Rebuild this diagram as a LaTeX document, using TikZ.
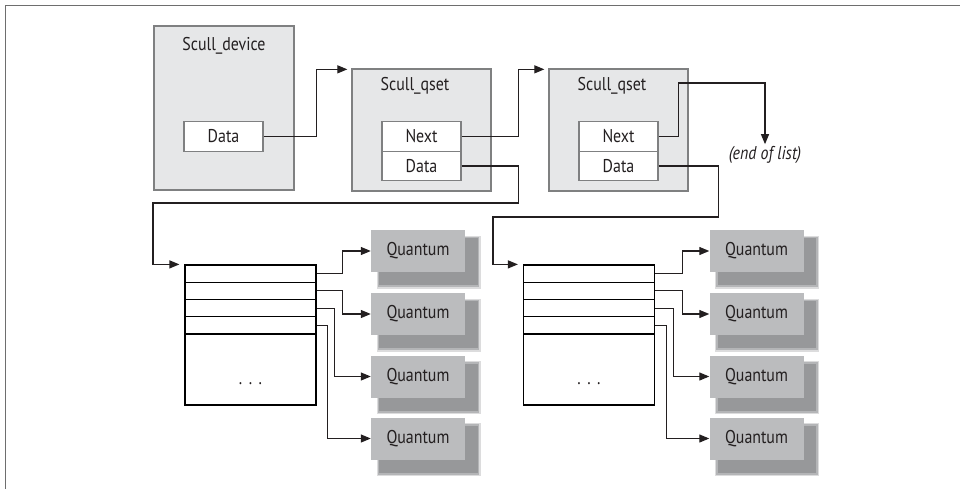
\documentclass[tikz,border=0pt]{standalone}
\usepackage{fontspec}
\setmainfont{PT Sans}[FakeStretch=0.86]
\usetikzlibrary{arrows.meta,backgrounds}
\definecolor{boxfill}{HTML}{E6E7E8}
\definecolor{boxline}{HTML}{7F8081}
\definecolor{qfill}{HTML}{BBBCBE}
\definecolor{shcore}{HTML}{97989A}
\definecolor{shmid}{HTML}{B4B5B7}
\definecolor{shout}{HTML}{DCDCDD}
\definecolor{ink}{HTML}{231F20}
\definecolor{framecol}{HTML}{6E6E6E}
\begin{document}
\begin{tikzpicture}[x=1pt,y=-1pt,
  font=\fontsize{18.5}{21}\selectfont, text=ink,
  graybox/.style={draw=boxline, fill=boxfill, line width=1.3pt, inner sep=0pt},
  field/.style={draw=boxline, fill=white, line width=1.3pt, inner sep=0pt, minimum width=79, minimum height=29.5},
  lbl/.style={inner sep=0pt},
  row/.style={draw=black, line width=1.2pt, fill=white, inner sep=0pt, minimum height=17.25},
  quant/.style={fill=qfill, inner sep=0pt, minimum width=94, minimum height=42},
  arr/.style={draw=ink, line width=1.2pt, -{Triangle[length=10pt,width=8pt]}},
  plain/.style={draw=ink, line width=1.2pt}]
\useasboundingbox (0,0) rectangle (960,489);
\draw[framecol, line width=1.4pt] (5.5,489) -- (5.5,5.5) -- (960,5.5);

% Scull_device
\node[graybox, minimum width=140, minimum height=164] (dev) at (224,108) {};
\node[lbl] (devt) at (224,46) {Scull\_device};
\node[field] (devdata) at (223.5,136.5) {Data};

% first qset
\node[graybox, minimum width=139, minimum height=122] (q1) at (421.5,130) {};
\node[lbl] (q1t) at (415,86) {Scull\_qset};
\node[field] (q1next) at (421.5,136.5) {Next};
\node[field] (q1data) at (421.5,166) {Data};

% second qset
\node[graybox, minimum width=139, minimum height=122] (q2) at (618.5,130) {};
\node[lbl] (q2t) at (612,86) {Scull\_qset};
\node[field] (q2next) at (618.5,136.5) {Next};
\node[field] (q2data) at (618.5,166) {Data};

\node[lbl, inner sep=2pt] (endlist) at (765,155) {\itshape (end of list)};

% tables
\foreach \t/\cx in {1/250.5, 2/589} {
  \node[row, minimum width=131] (r\t1) at (\cx,273.625) {};
  \node[row, minimum width=131] (r\t2) at (\cx,290.875) {};
  \node[row, minimum width=131] (r\t3) at (\cx,308.125) {};
  \node[row, minimum width=131] (r\t4) at (\cx,325.375) {};
  \node[row, minimum width=131, minimum height=71] (b\t) at (\cx,369.5) {};
  \node[lbl] (dots\t) at (\cx,384) {.\hspace{0.35em}.\hspace{0.35em}.};
}

% quantum boxes
\node[quant] (qa1) at (418,251) {Quantum};
\node[quant] (qa2) at (418,314) {Quantum};
\node[quant] (qa3) at (418,376.5) {Quantum};
\node[quant] (qa4) at (418,438.5) {Quantum};
\node[quant] (qb1) at (756.5,251) {Quantum};
\node[quant] (qb2) at (756.5,314) {Quantum};
\node[quant] (qb3) at (756.5,376.5) {Quantum};
\node[quant] (qb4) at (756.5,438.5) {Quantum};

\begin{pgfonlayer}{background}
\foreach \n in {qa1,qa2,qa3,qa4,qb1,qb2,qb3,qb4} {
  \fill[shout] ([xshift=6pt,yshift=-6pt]\n.north west) rectangle ([xshift=15.5pt,yshift=-16.5pt]\n.south east);
  \fill[shmid] ([xshift=7pt,yshift=-7pt]\n.north west) rectangle ([xshift=14pt,yshift=-15pt]\n.south east);
  \fill[shcore] ([xshift=8.5pt,yshift=-8.5pt]\n.north west) rectangle ([xshift=12.5pt,yshift=-13pt]\n.south east);
}
\end{pgfonlayer}

% coordinates for bends
\coordinate (turn) at (765,83);
\coordinate (d1) at (153,203);
\coordinate (d2) at (493,217);

% connectors
\draw[arr] (devdata.east) -- ++(53,0) |- ([xshift=-4pt,yshift=-1pt]q1.north west);
\draw[arr] (q1next.east) -- ++(57,0) |- ([xshift=-4pt,yshift=-1pt]q2.north west);
\draw[arr] (q2next.east) -- ++(20,0) |- (turn) -- (endlist.north);
\draw[arr] (q1data.east) -- ++(57,0) |- (d1) |- ([xshift=-5pt]r11.north west);
\draw[arr] (q2data.east) -- ++(60,0) |- (d2) |- ([xshift=-5pt]r21.north west);

\draw[arr] (r11.east) -- ++(26,0) |- (qa1.west);
\draw[arr] (r12.east) -- ++(26,0) |- (qa2.west);
\draw[arr] (r13.east) -- ++(18,0) |- (qa3.west);
\draw[arr] (r14.east) -- ++(11,0) |- (qa4.west);
\draw[arr] (r21.east) -- ++(27,0) |- (qb1.west);
\draw[arr] (r22.east) -- ++(27,0) |- (qb2.west);
\draw[arr] (r23.east) -- ++(18,0) |- (qb3.west);
\draw[arr] (r24.east) -- ++(11,0) |- (qb4.west);
\end{tikzpicture}
\end{document}
